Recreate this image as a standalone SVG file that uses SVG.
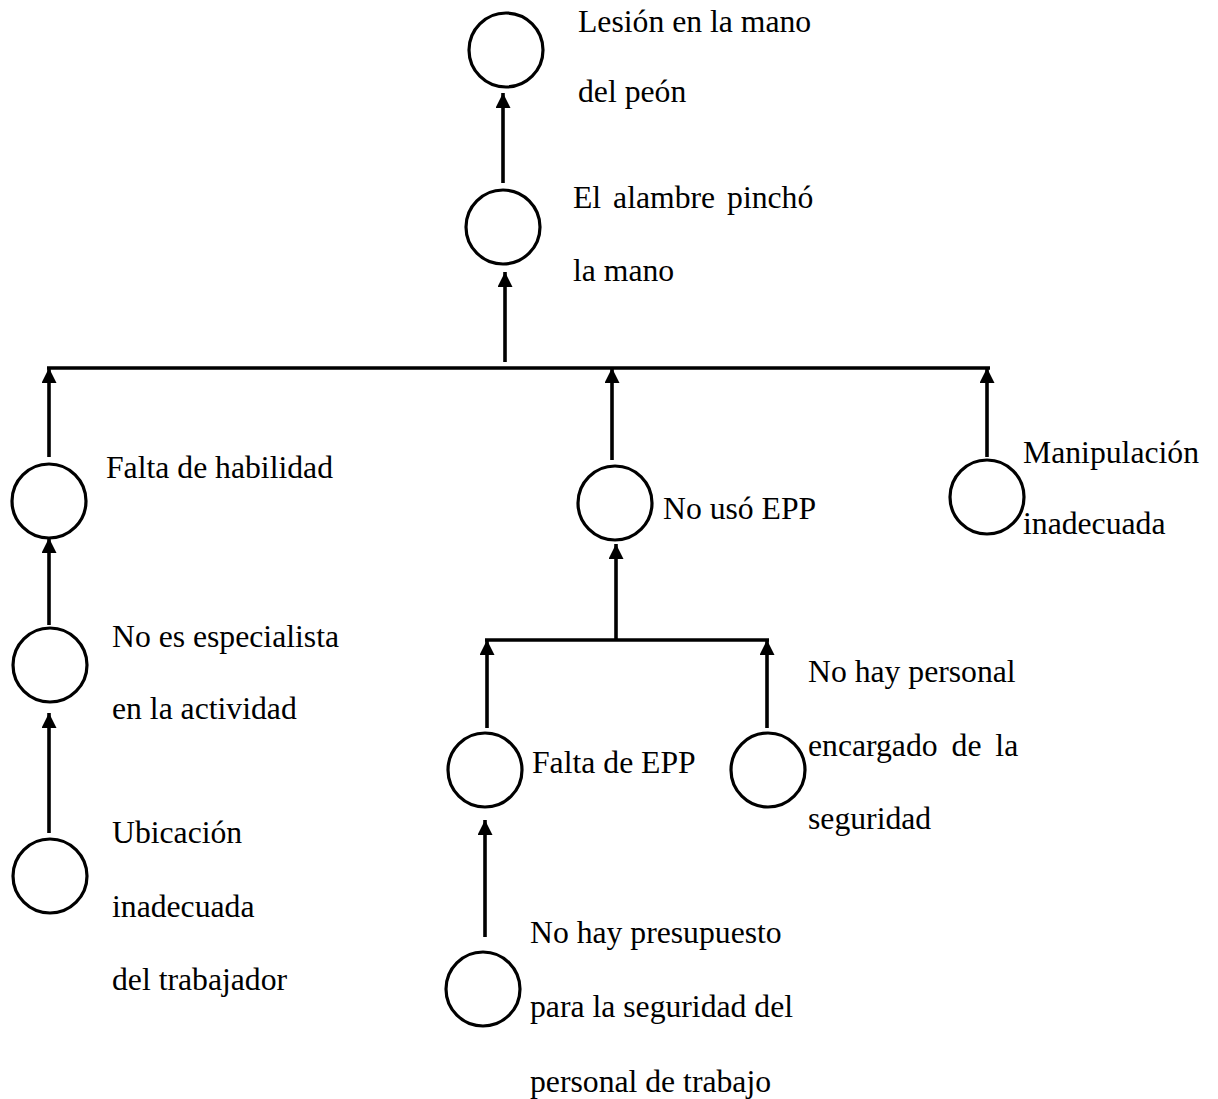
<svg xmlns="http://www.w3.org/2000/svg" width="1218" height="1099" viewBox="0 0 1218 1099">
<style>
.n{fill:none;stroke:#000;stroke-width:3.2}
.t{font-family:"Liberation Serif","Times New Roman",serif;font-size:31.7px;fill:#000}
.c{fill:none;stroke:#000;stroke-width:3.6}
</style>
<defs>
<marker id="ah" markerUnits="userSpaceOnUse" markerWidth="16" markerHeight="16" refX="15" refY="7.5" orient="auto">
<path d="M0,0 L15,7.5 L0,15 z" fill="#000"/>
</marker>
</defs>
<rect width="1218" height="1099" fill="#fff"/>
<g id="connectors">
<path class="c" d="M503,183 V93" marker-end="url(#ah)"/>
<path class="c" d="M505,362 V272" marker-end="url(#ah)"/>
<path class="c" d="M47,368 H990"/>
<path class="c" d="M49,457 V368" marker-end="url(#ah)"/>
<path class="c" d="M612,460 V368" marker-end="url(#ah)"/>
<path class="c" d="M987,457 V368" marker-end="url(#ah)"/>
<path class="c" d="M49,625 V538" marker-end="url(#ah)"/>
<path class="c" d="M49,833 V713" marker-end="url(#ah)"/>
<path class="c" d="M616,640 V544" marker-end="url(#ah)"/>
<path class="c" d="M485,640 H769"/>
<path class="c" d="M487,728 V640" marker-end="url(#ah)"/>
<path class="c" d="M767,728 V640" marker-end="url(#ah)"/>
<path class="c" d="M485,937 V820" marker-end="url(#ah)"/>
</g>
<g id="n1"><circle class="n" cx="506" cy="50" r="37"/><text class="t" x="578" y="32">Lesión en la mano</text><text class="t" x="578" y="102">del peón</text></g>
<g id="n2"><circle class="n" cx="503" cy="227" r="37"/><text class="t" x="573" y="208" word-spacing="4">El alambre pinchó</text><text class="t" x="573" y="281">la mano</text></g>
<g id="n3"><circle class="n" cx="49" cy="501" r="37"/><text class="t" x="106" y="478">Falta de habilidad</text></g>
<g id="n4"><circle class="n" cx="615" cy="503" r="37"/><text class="t" x="663" y="519">No usó EPP</text></g>
<g id="n5"><circle class="n" cx="987" cy="497" r="37"/><text class="t" x="1023" y="463">Manipulación</text><text class="t" x="1023" y="534">inadecuada</text></g>
<g id="n6"><circle class="n" cx="50" cy="665" r="37"/><text class="t" x="112" y="647">No es especialista</text><text class="t" x="112" y="719">en la actividad</text></g>
<g id="n7"><circle class="n" cx="50" cy="876" r="37"/><text class="t" x="112" y="843">Ubicación</text><text class="t" x="112" y="917">inadecuada</text><text class="t" x="112" y="990">del trabajador</text></g>
<g id="n8"><circle class="n" cx="485" cy="770" r="37"/><text class="t" x="532" y="773">Falta de EPP</text></g>
<g id="n9"><circle class="n" cx="768" cy="770" r="37"/><text class="t" x="808" y="682">No hay personal</text><text class="t" x="808" y="756" word-spacing="6">encargado de la</text><text class="t" x="808" y="829">seguridad</text></g>
<g id="n10"><circle class="n" cx="483" cy="989" r="37"/><text class="t" x="530" y="943">No hay presupuesto</text><text class="t" x="530" y="1017">para la seguridad del</text><text class="t" x="530" y="1092">personal de trabajo</text></g>
</svg>
